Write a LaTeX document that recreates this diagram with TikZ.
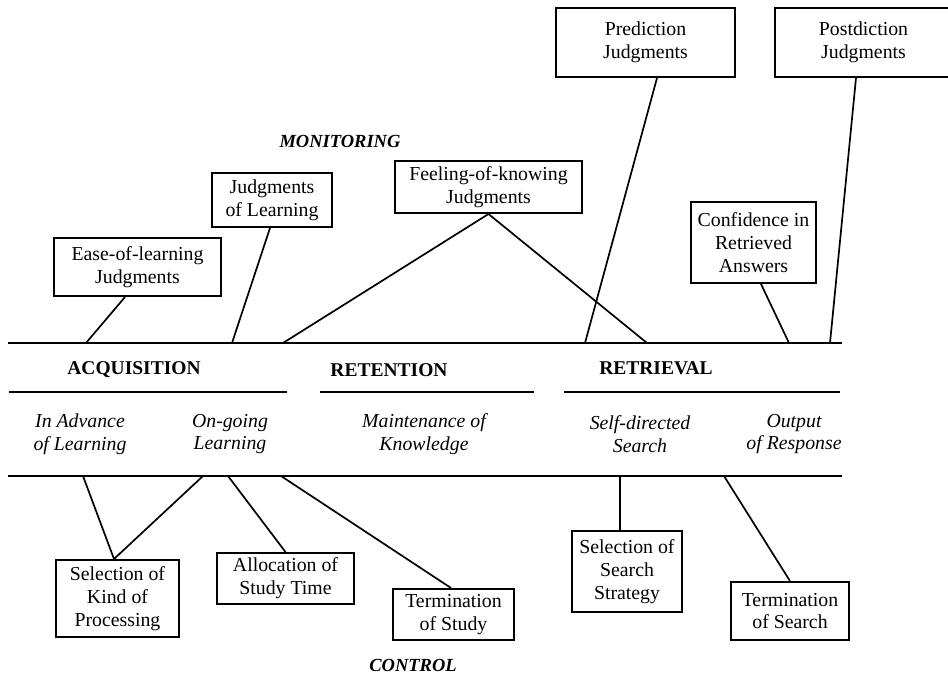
\documentclass[tikz,border=0pt]{standalone}
\usepackage{fontspec}
\setmainfont{Liberation Serif}
\begin{document}
\begin{tikzpicture}[x=1pt,y=-1pt,
  judgebox/.style={draw,line width=2pt,align=center,inner sep=0pt,
    font=\fontsize{19.8}{22.7}\selectfont},
  link/.style={line width=1.7pt},
  rule/.style={line width=2.2pt},
  stage/.style={font=\fontsize{19.5}{22.7}\selectfont\bfseries},
  phase/.style={align=center,font=\fontsize{19.8}{22.7}\selectfont\itshape},
  heading/.style={font=\fontsize{18.5}{22}\selectfont\bfseries\itshape}]
\useasboundingbox (0,0) rectangle (948,676);

% main horizontal rules
\coordinate (topL) at (8,343);   \coordinate (topR) at (842,343);
\coordinate (botL) at (8,476);   \coordinate (botR) at (842,476);
\draw[rule] (topL) -- (topR);
\draw[rule] (botL) -- (botR);
\coordinate (m1a) at (9,392);   \coordinate (m1b) at (287,392);
\coordinate (m2a) at (320,392); \coordinate (m2b) at (534,392);
\coordinate (m3a) at (564,392); \coordinate (m3b) at (840,392);
\draw[rule] (m1a) -- (m1b);
\draw[rule] (m2a) -- (m2b);
\draw[rule] (m3a) -- (m3b);

% stage names and phases
\node[stage] (acq) at (134,370) {ACQUISITION};
\node[stage] (ret) at (389,370) {RETENTION};
\node[stage] (rtv) at (656,368) {RETRIEVAL};
\node[phase] (adv) at (80,434) {In Advance\\of Learning};
\node[phase] (ong) at (230,434) {On-going\\Learning};
\node[phase] (mnt) at (424,434) {Maintenance of\\Knowledge};
\node[phase] (sds) at (640,434) {Self-directed\\Search};
\node[phase] (out) at (794,434) {Output\\of Response};

\node[heading] (mon) at (340,141) {MONITORING};
\node[heading] (ctl) at (413,665) {CONTROL};

% monitoring judgments
\node[judgebox,minimum width=179,minimum height=69] (pred) at (645.5,42.5) {Prediction\\Judgments};
\node[judgebox,minimum width=177,minimum height=69] (post) at (863.5,42.5) {Postdiction\\Judgments};
\node[judgebox,minimum width=187,minimum height=52] (fok) at (488.5,187) {Feeling-of-knowing\\Judgments};
\node[judgebox,minimum width=125,minimum height=81] (conf) at (753.5,242.5) {Confidence in\\Retrieved\\Answers};
\node[judgebox,minimum width=120,minimum height=54] (jol) at (272,200) {Judgments\\of Learning};
\node[judgebox,minimum width=167,minimum height=58] (eol) at (137.5,267) {Ease-of-learning\\Judgments};

% control decisions
\node[judgebox,minimum width=123,minimum height=77] (skp) at (117.5,598.5) {Selection of\\Kind of\\Processing};
\node[judgebox,minimum width=137,minimum height=51] (ast) at (285.5,578.5) {Allocation of\\Study Time};
\node[judgebox,minimum width=121,minimum height=51] (tst) at (453.5,614.5) {Termination\\of Study};
\node[judgebox,minimum width=110,minimum height=81] (sss) at (627,571.5) {Selection of\\Search\\Strategy};
\node[judgebox,minimum width=118,minimum height=58] (tse) at (790,611) {Termination\\of Search};

% attachment points on the rules
\coordinate (t1) at (86,343);  \coordinate (t2) at (232,343);
\coordinate (t3) at (283,343); \coordinate (t4) at (647,343);
\coordinate (t5) at (585,343); \coordinate (t6) at (789,343);
\coordinate (t7) at (830,343);
\coordinate (b1) at (83,476);  \coordinate (b2) at (203,476);
\coordinate (b3) at (228,476); \coordinate (b4) at (281,476);
\coordinate (b5) at (620,476); \coordinate (b6) at (724,476);

% monitoring links
\draw[link] ([xshift=-12.5]eol.south) -- (t1);
\draw[link] ([xshift=-2]jol.south) -- (t2);
\draw[link] (t3) -- (fok.south) -- (t4);
\draw[link] ([xshift=11.5]pred.south) -- (t5);
\draw[link] ([xshift=7.5]conf.south) -- (t6);
\draw[link] ([xshift=-7.5]post.south) -- (t7);

% control links
\draw[link] (b1) -- ([xshift=-3.5]skp.north) -- (b2);
\draw[link] (ast.north) -- (b3);
\draw[link] ([xshift=-2.5]tst.north) -- (b4);
\draw[link] ([xshift=-7]sss.north) -- (b5);
\draw[link] (tse.north) -- (b6);
\end{tikzpicture}
\end{document}
